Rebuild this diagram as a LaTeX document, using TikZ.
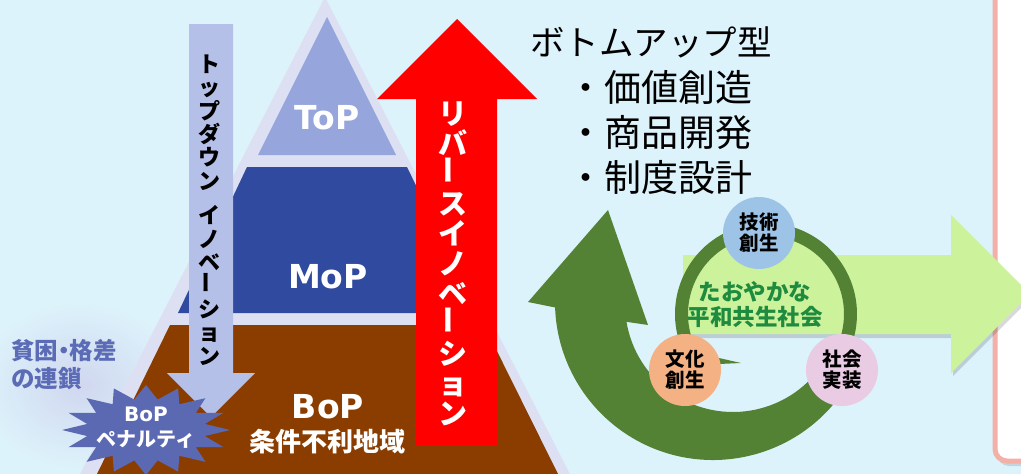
\documentclass[tikz,border=0pt]{standalone}
\usepackage{fontspec}
\usepackage{graphicx}
\setmainfont{Noto Sans CJK JP}
\newfontfamily\jpf{Noto Sans CJK JP}
\newfontfamily\latf{DejaVu Sans}
\usetikzlibrary{calc}
\definecolor{bgc}{HTML}{DDF3FB}
\definecolor{glowc}{HTML}{D0D7EF}
\definecolor{lavc}{HTML}{DCE0F2}
\definecolor{topc}{HTML}{96A6DC}
\definecolor{mopc}{HTML}{2F4A9E}
\definecolor{bopc}{HTML}{8B3D00}
\definecolor{tdc}{HTML}{B4C0E8}
\definecolor{redc}{HTML}{FF0000}
\definecolor{garc}{HTML}{548235}
\definecolor{lgc}{HTML}{CDF29C}
\definecolor{cblue}{HTML}{9DC3E6}
\definecolor{corange}{HTML}{F4B183}
\definecolor{cpink}{HTML}{E9CBE3}
\definecolor{tgreen}{HTML}{1E8B3F}
\definecolor{starc}{HTML}{5A69B2}
\definecolor{povc}{HTML}{5B6BB5}
\definecolor{pinkc}{HTML}{F4B0A6}
\newcommand{\vbar}{\rotatebox{90}{ー}}
\begin{document}
\begin{tikzpicture}[x=1pt,y=-1pt,
  lbl/.style={text=white, inner sep=0, font=\latf\bfseries\fontsize{33}{36}\selectfont},
  vtext/.style={align=center, inner sep=0},
  circ/.style={circle, minimum size=72, inner sep=0, align=center, text=black,
    font=\jpf\bfseries\fontsize{19.5}{21}\selectfont},
  plain/.style={inner sep=0}]
\clip (0,0) rectangle (1021,474);
\fill[bgc] (0,0) rectangle (1021,474);
% glow
\shade[inner color=glowc, outer color=bgc] (80,385) ellipse [x radius=105, y radius=85];
% right panel
\fill[black, opacity=0.12, rounded corners=12] (997,-20) rectangle (1047,466);
\draw[pinkc, line width=5, fill=white, rounded corners=12] (995,-20) rectangle (1045,461);
% pyramid
\fill[lavc] (325,-3) -- (80,474) -- (570,474) -- cycle;
\fill[topc] (327,17) -- (258,155) -- (396,155) -- cycle;
\fill[mopc] (247,167) -- (407,167) -- (478,313) -- (178,313) -- cycle;
\fill[bopc] (170,325) -- (484,325) -- (558,474) -- (97,474) -- cycle;
% top-down arrow
\fill[tdc] (189,24) -- (233,24) -- (233,373) -- (255,373) -- (211,417) -- (167,373) -- (189,373) -- cycle;
% red arrow
\fill[redc] (416,445) -- (416,99) -- (377,99) -- (457,19) -- (537,99) -- (497,99) -- (497,445) -- cycle;
% labels
\node[lbl] (top) at (327,118) {ToP};
\node[lbl] (mop) at (328,277) {MoP};
\node[lbl] (bop) at (328,407) {BoP};
\node[plain, text=white, font=\jpf\bfseries\fontsize{26}{28}\selectfont] (joken) at (327,442) {条件不利地域};
\node[vtext, text=black, font={\jpf\bfseries\fontsize{22}{23.4}\selectfont\lineskiplimit=-100pt}] (tdtext) at (209,210)
  {ト\\ッ\\プ\\ダ\\ウ\\ン\\[11pt]イ\\ノ\\ベ\\\vbar\\シ\\ョ\\ン};
\node[vtext, text=white, font={\jpf\bfseries\fontsize{29}{30}\selectfont\lineskiplimit=-100pt}] (revtext) at (453,264)
  {リ\\バ\\\vbar\\ス\\イ\\ノ\\ベ\\\vbar\\シ\\ョ\\ン};
% star
\fill[starc] (230,430) \foreach \a in {0,22.5,...,337.5} { -- ({146+84*cos(\a)},{430+45*sin(\a)}) -- ({146+60*cos(\a+11.25)},{430+31*sin(\a+11.25)}) } -- cycle;
\node[plain, text=white, font=\latf\bfseries\fontsize{20}{22}\selectfont] (starb) at (146,414) {BoP};
\node[plain, text=white, font=\jpf\bfseries\fontsize{20}{22}\selectfont] (starp) at (146,439) {ペナルティ};
% poverty text
\node[plain, anchor=west, align=left, text=povc, font=\jpf\bfseries\fontsize{23.5}{28}\selectfont] (pov) at (11,365) {貧困\kern-0.25em・\kern-0.25em格差\\の連鎖};
% right texts
\node[plain, anchor=west, text=black, font=\jpf\fontsize{34.5}{36}\selectfont] (head) at (530,42) {ボトムアップ型};
\node[plain, anchor=west, align=left, text=black, font=\jpf\fontsize{37}{45}\selectfont] (items) at (567,132) {・価値創造\\・商品開発\\・制度設計};
% big green circular arrow
\fill[garc] ($(713,302)+(35:158)$) arc[start angle=35, end angle=178, radius=158]
  -- (528,302) -- (608,210) -- (648,325) -- ($(733,304)+(170.5:108)$)
  arc[start angle=170.5, end angle=35, radius=108] -- cycle;
% light green arrow with shadow
\fill[black, opacity=0.15] (685,258) -- (953,258) -- (953,218) -- (1032,297) -- (953,376) -- (953,338) -- (685,338) -- cycle;
\fill[lgc] (683,255) -- (951,255) -- (951,215) -- (1030,294) -- (951,373) -- (951,334) -- (683,334) -- cycle;
\begin{scope}
\clip (680,200) rectangle (860,260);
\fill[lgc] (766,314) circle (80);
\end{scope}
% ring
\draw[garc, line width=13] ($(766,314)+(150:84.5)$) arc[start angle=150, end angle=400, radius=84.5];
\fill[garc] (719,358) -- (741,363) -- (719,364) -- cycle;
% circles
\node[circ, fill=cblue] (tech) at (759,233) {技術\\創生};
\node[circ, fill=corange] (bunka) at (685,370) {文化\\創生};
\node[circ, fill=cpink] (shakai) at (842,370) {社会\\実装};
\node[plain, align=center, text=tgreen, font=\jpf\bfseries\fontsize{22.5}{25}\selectfont] (center) at (755,305) {たおやかな\\平和共生社会};
\end{tikzpicture}
\end{document}
